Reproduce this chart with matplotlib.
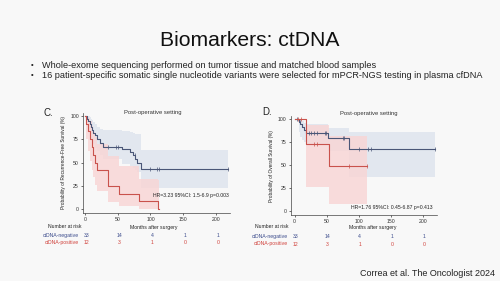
import matplotlib
matplotlib.use('Agg')
import matplotlib.pyplot as plt
from matplotlib.transforms import blended_transform_factory

plt.rcParams['font.family'] = ['Liberation Sans', 'DejaVu Sans']

# ---- panel C: recurrence-free survival ----
c_neg_t = [0, 3, 5, 7, 9, 11, 13, 16, 19, 23, 28, 56, 68, 74, 77, 80, 86, 218]
c_neg_s = [100, 97, 94, 91, 88, 85, 82, 79, 75, 71, 67, 64, 61, 58, 54, 50, 43, 43]
c_neg_hi = [100, 100, 100, 99, 97, 95, 93, 91, 88, 86, 85, 84, 83, 82, 81, 80, 63, 63]
c_neg_lo = [100, 88, 84, 80, 76, 73, 70, 66, 62, 58, 54, 48, 46, 44, 42, 40, 23, 23]
c_neg_cens = [35, 48, 50, 76, 100, 110, 113, 218]

c_pos_t = [0, 2, 5, 8, 10, 13, 16, 19, 35, 52, 82, 112, 113]
c_pos_s = [100, 91.7, 83.3, 75, 66.7, 58.3, 50, 41.7, 25, 16.7, 8.3, 0, 0]
c_pos_hi = [100, 100, 98, 94, 89, 83, 77, 70, 57, 46, 32, 31, 31]
c_pos_lo = [100, 75, 62, 52, 42, 34, 26, 20, 8, 3, 0, 0, 0]
c_pos_cens = []

# ---- panel D: overall survival ----
d_neg_t = [0, 6, 9, 12, 15, 18, 52, 84, 218]
d_neg_s = [100, 97, 94, 91, 88, 85, 79, 67, 67]
d_neg_hi = [100, 100, 99, 98, 96, 94, 90, 86, 86]
d_neg_lo = [100, 86, 80, 77, 75, 73, 65, 37, 37]
d_neg_cens = [3, 8, 22, 26, 30, 35, 47, 49, 75, 77, 100, 114, 118, 218]

d_pos_t = [0, 17, 53, 113]
d_pos_s = [100, 72.7, 48.5, 48.5]
d_pos_hi = [100, 93, 81, 81]
d_pos_lo = [100, 26, 8, 8]
d_pos_cens = [5, 10, 30, 34, 84, 113]

risk_times = [0, 50, 100, 150, 200]
risk_neg = [33, 14, 4, 1, 1]
risk_pos = [12, 3, 1, 0, 0]

blue = '#4a5677'
red = '#c9524c'
blue_fill = '#dfe5ee'
red_fill = '#f8d6d6'
bg = '#f8f8f8'
fs = 3.7


def step_val(t, s, x):
    v = s[0]
    for ti, si in zip(t, s):
        if ti <= x:
            v = si
    return v


def km(ax, t, s, hi, lo, cens, col, fcol):
    ax.fill_between(t, lo, hi, step='post', color=fcol, lw=0, alpha=0.85)
    ax.step(t, s, where='post', color=col, lw=0.8)
    ax.plot(cens, [step_val(t, s, x) for x in cens], ls='none', marker='|',
            ms=2.5, mew=0.5, color=col)


def panel(rect, xlim, ylim, curves, ylabel, letter, title_xy, hr, hr_xy,
          risk_y, lab_x, nar_x, xlab_t, shift):
    ax = fig.add_axes(rect)
    ax.set_facecolor(bg)
    for c in curves:
        km(ax, *c)
    ax.set_xlim(*xlim)
    ax.set_ylim(*ylim)
    ax.set_xticks([0, 50, 100, 150, 200])
    ax.set_yticks([0, 25, 50, 75, 100])
    ax.spines['top'].set_visible(False)
    ax.spines['right'].set_visible(False)
    for sp in ['left', 'bottom']:
        ax.spines[sp].set_linewidth(0.5)
        ax.spines[sp].set_color('#444444')
    ax.tick_params(labelsize=fs, length=1.5, width=0.5, pad=1.5, colors='#333333')
    ax.set_ylabel(ylabel, fontsize=3.4, labelpad=3, color='#222222')
    ax.text(title_xy[0], title_xy[1], 'Post-operative setting', fontsize=4.2, ha='center',
            va='center', transform=ax.transAxes, color='#333333')
    ax.text(hr_xy[0], hr_xy[1], hr, fontsize=fs, ha='left', va='center', color='#222222')
    tr = blended_transform_factory(ax.transData, fig.transFigure)
    ax.text(xlab_t, risk_y[0], 'Months after surgery', transform=tr, fontsize=fs,
            ha='center', va='center', color='#222222')
    fig.text(nar_x, risk_y[0], 'Number at risk', fontsize=fs, ha='left', va='center',
             color='#222222')
    fig.text(lab_x, risk_y[1], 'ctDNA-negative', fontsize=fs, ha='right', va='center', color='#3c4c8c')
    fig.text(lab_x, risk_y[2], 'ctDNA-positive', fontsize=fs, ha='right', va='center', color='#d0403a')
    for t, n, p in zip(risk_times, risk_neg, risk_pos):
        ax.text(t + shift, risk_y[1], str(n), transform=tr, fontsize=fs, ha='center',
                va='center', color='#3c4c8c')
        ax.text(t + shift, risk_y[2], str(p), transform=tr, fontsize=fs, ha='center',
                va='center', color='#d0403a')
    fig.text(letter[1], letter[2], letter[0], fontsize=7, ha='left', va='center', color='#222222')
    return ax


fig = plt.figure(figsize=(5, 2.81), dpi=100)
fig.patch.set_facecolor(bg)

fig.text(0.5, 1 - 40 / 281, 'Biomarkers: ctDNA', fontsize=15.2, ha='center', va='center', color='#111111')
fig.text(31 / 500, 1 - 65 / 281, '•', fontsize=5.5, ha='left', va='center', color='#222222')
fig.text(42 / 500, 1 - 65 / 281, 'Whole-exome sequencing performed on tumor tissue and matched blood samples',
         fontsize=6.55, ha='left', va='center', color='#222222')
fig.text(31 / 500, 1 - 76 / 281, '•', fontsize=5.5, ha='left', va='center', color='#222222')
fig.text(42 / 500, 1 - 76 / 281,
         '16 patient-specific somatic single nucleotide variants were selected for mPCR-NGS testing in plasma cfDNA',
         fontsize=6.55, ha='left', va='center', color='#222222')

panel([83 / 500, 0.242, 147.4 / 500, 0.356], (-3, 222), (-4, 103),
      [(c_neg_t, c_neg_s, c_neg_hi, c_neg_lo, c_neg_cens, blue, blue_fill),
       (c_pos_t, c_pos_s, c_pos_hi, c_pos_lo, c_pos_cens, red, red_fill)],
      'Probability of Recurrence-Free Survival (%)', ('C.', 44 / 500, 1 - 113 / 281), (0.475, 1.0),
      'HR=3.23 95%CI: 1.5-6.9 p=0.003', (104, 15),
      [1 - 227 / 281, 1 - 235.7 / 281, 1 - 242.7 / 281], 79 / 500, 48 / 500, 105, 3)

panel([290.8 / 500, 0.2349, 146.6 / 500, 0.3516], (-6, 222), (-4.3, 103),
      [(d_neg_t, d_neg_s, d_neg_hi, d_neg_lo, d_neg_cens, blue, blue_fill),
       (d_pos_t, d_pos_s, d_pos_hi, d_pos_lo, d_pos_cens, red, red_fill)],
      'Probability of Overall Survival (%)', ('D.', 262 / 500, 1 - 112 / 281), (0.533, 1.032),
      'HR=1.76 95%CI: 0.45-6.87 p=0.413', (88, 4),
      [1 - 227 / 281, 1 - 236.7 / 281, 1 - 244 / 281], 288 / 500, 255 / 500, 122, 1)

fig.text(495 / 500, 1 - 274 / 281, 'Correa et al. The Oncologist 2024', fontsize=6.5,
         ha='right', va='center', color='#222222')

fig.savefig('out.png', dpi=100, facecolor=bg)
